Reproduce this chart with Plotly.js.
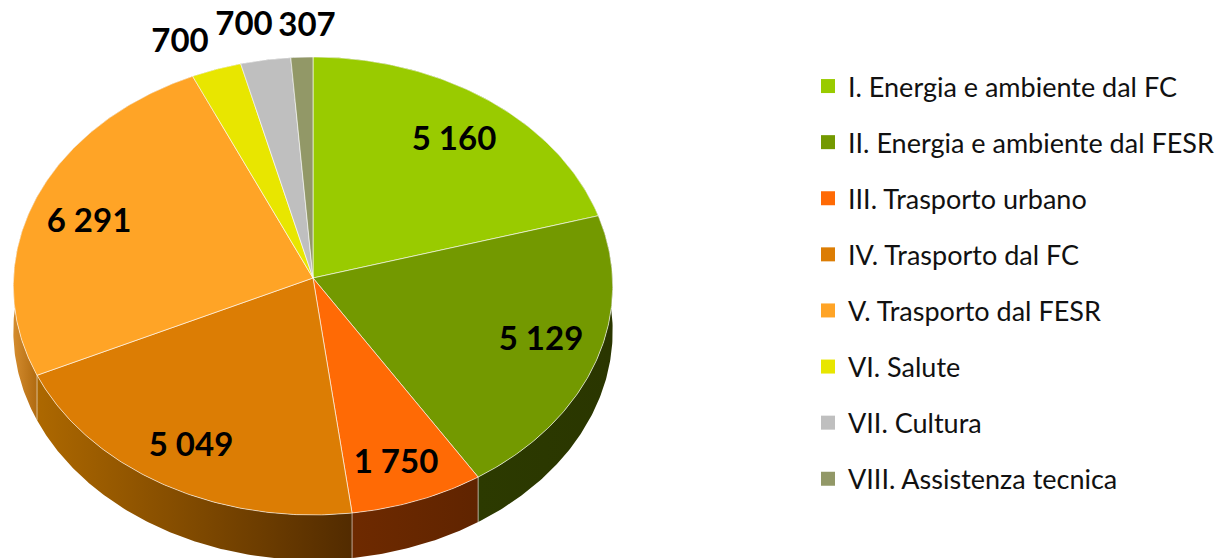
<!DOCTYPE html>
<html>
<head>
<meta charset="utf-8">
<script src="https://cdn.plot.ly/plotly-3.0.1.min.js"></script>
<style>html,body{margin:0;padding:0;background:#fff}#c{width:1216px;height:558px}</style>
</head>
<body>
<div id="c"></div>
<script>
const categories = ["I. Energia e ambiente dal FC","II. Energia e ambiente dal FESR","III. Trasporto urbano","IV. Trasporto dal FC","V. Trasporto dal FESR","VI. Salute","VII. Cultura","VIII. Assistenza tecnica"];
const values = [5160,5129,1750,5049,6291,700,700,307];
const topColors = ["#99CB00","#739900","#FF6A05","#DC7D04","#FFA426","#E8E600","#BFBFBF","#929867"];
const wallFrom = ["#5a7a00","#2C3A00","#6E2A00","#AD6800","#D48C2E","#8a8800","#777777","#55593a"];
const wallTo = ["#5a7a00","#2A3600","#602400","#522B00","#B06A10","#8a8800","#777777","#55593a"];
const labelX = [454,541,396,191,89,180,244,307];
const labelY = [142,342,465,448,224,44,27,28];

const cx = 313, cy = 278, B = 299.5, A = 228.7, k = 0.0349, depth = 45;
function pt(theta, off) {
  const u = Math.sin(theta), v = Math.cos(theta), d = 1 + k * v;
  return [cx + B * u / d, cy - A * v / d + (off || 0)];
}
function arc(t0, t1, off) {
  const n = Math.max(2, Math.ceil(Math.abs(t1 - t0) / 0.01));
  const out = [];
  for (let i = 0; i <= n; i++) out.push(pt(t0 + (t1 - t0) * i / n, off));
  return out;
}
const total = values.reduce((a, b) => a + b, 0);
const bounds = [0];
values.forEach(v => bounds.push(bounds[bounds.length - 1] + v / total * 2 * Math.PI));
const fmt = v => String(v).replace(/\B(?=(\d{3})+$)/g, " ");
const traces = [];

values.forEach((v, i) => {
  const t0 = bounds[i], t1 = bounds[i + 1];
  const poly = arc(t0, t1, 0).concat(arc(t1, t0, depth));
  poly.push(poly[0]);
  const xs = poly.map(p => p[0]);
  let lo = Math.min(...xs), hi = Math.max(...xs);
  if (i === 4) hi = pt(t0, 0)[0];
  traces.push({type: "scatter", mode: "lines", x: xs, y: poly.map(p => p[1]), fill: "toself",
    line: {width: 0, color: "rgba(0,0,0,0)"},
    fillgradient: {type: "horizontal", start: lo, stop: hi, colorscale: [[0, wallFrom[i]], [1, wallTo[i]]]},
    showlegend: false, hoverinfo: "skip"});
});

const edgeX = [], edgeY = [];
bounds.slice(0, -1).forEach(t => {
  if (Math.cos(t) < 0.15) {
    const a = pt(t, 0), b = pt(t, depth);
    edgeX.push(a[0], b[0], null); edgeY.push(a[1], b[1], null);
  }
});
traces.push({type: "scatter", mode: "lines", x: edgeX, y: edgeY, line: {width: 1, color: "rgba(255,255,255,0.55)"}, showlegend: false, hoverinfo: "skip"});

values.forEach((v, i) => {
  const poly = [[cx, cy]].concat(arc(bounds[i], bounds[i + 1], 0));
  poly.push([cx, cy]);
  traces.push({type: "scatter", mode: "lines", x: poly.map(p => p[0]), y: poly.map(p => p[1]), fill: "toself",
    fillcolor: topColors[i], line: {width: 1, color: "rgba(255,255,255,0.6)"},
    name: categories[i], text: fmt(v), hoverinfo: "name+text", showlegend: false});
});

categories.forEach((c, i) => {
  traces.push({type: "scatter", mode: "markers", x: [null], y: [null], name: c, legendgroup: "g" + i,
    marker: {symbol: "square", size: 14, color: topColors[i]}, hoverinfo: "skip"});
});

traces.push({type: "scatter", mode: "text", x: labelX, y: labelY, text: values.map(fmt), textposition: "middle center",
  textfont: {family: "Lato, Carlito, sans-serif", size: 33, color: "#000", weight: 700},
  showlegend: false, hoverinfo: "skip", cliponaxis: false});

Plotly.newPlot("c", traces, {
  width: 1216, height: 558, margin: {l: 0, r: 0, t: 0, b: 0, autoexpand: false},
  paper_bgcolor: "#fff", plot_bgcolor: "#fff",
  xaxis: {range: [0, 1216], visible: false, fixedrange: true},
  yaxis: {range: [558, 0], visible: false, fixedrange: true},
  showlegend: true,
  legend: {x: 808 / 1216, y: 1 - 62 / 558, xanchor: "left", yanchor: "top", bgcolor: "rgba(0,0,0,0)",
    font: {family: "Lato, Carlito, sans-serif", size: 27, color: "#111"}, tracegroupgap: 18, itemclick: false, itemdoubleclick: false}
}, {displayModeBar: false});
</script>
</body>
</html>
